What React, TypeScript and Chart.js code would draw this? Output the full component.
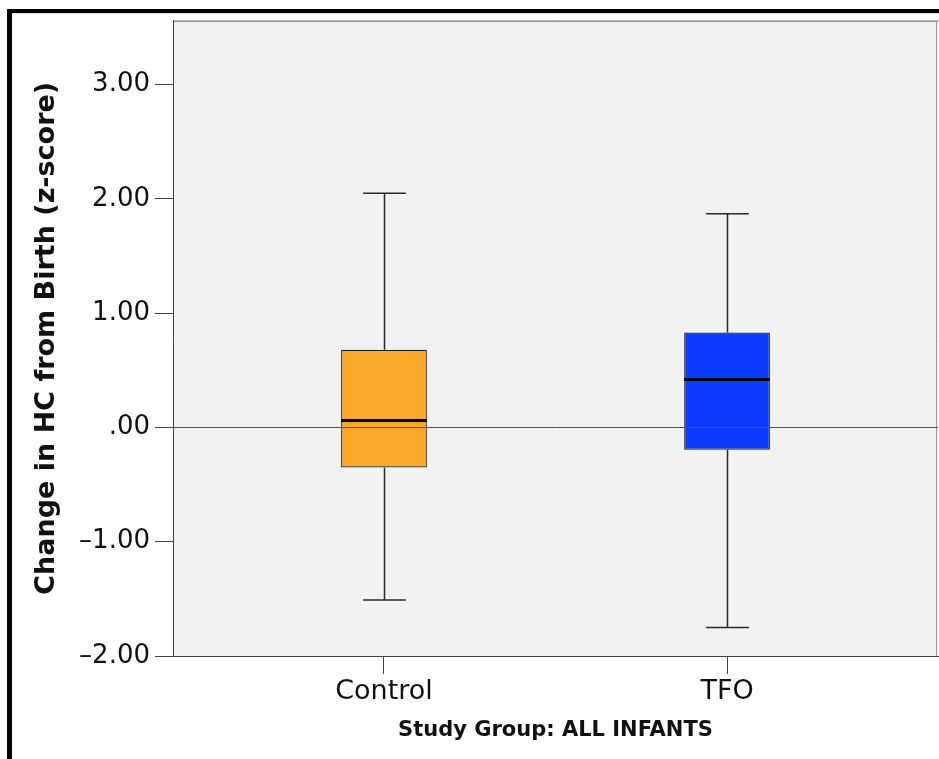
import React, { useEffect, useRef } from 'react';
import { Chart, registerables } from 'chart.js';

Chart.register(...registerables);

const categories = ['Control', 'TFO'];
const whiskerLow = [-1.51, -1.75];
const q1 = [-0.35, -0.195];
const median = [0.06, 0.42];
const q3 = [0.68, 0.83];
const whiskerHigh = [2.05, 1.87];
const boxColors = ['#F9A82A', '#0A3BFF'];
const yTickValues = [-2, -1, 0, 1, 2, 3];
const yTickLabels = ['–2.00', '–1.00', '.00', '1.00', '2.00', '3.00'];
const yMin = -2;
const yMax = 3.56;
const referenceValue = 0;
const yTitle = 'Change in HC from Birth (z-score)';
const xTitle = 'Study Group: ALL INFANTS';

const FONT = 'DejaVu Sans';

const boxPlugin = {
  id: 'boxExtras',
  beforeDraw(chart: any) {
    const { ctx, chartArea: a } = chart;
    ctx.save();
    ctx.fillStyle = '#ffffff';
    ctx.fillRect(0, 0, chart.width, chart.height);
    ctx.fillStyle = '#F2F2F2';
    ctx.fillRect(a.left, a.top, a.right - a.left, a.bottom - a.top);
    // outer frame
    ctx.fillStyle = '#000000';
    ctx.fillRect(7, 9, chart.width, 4);
    ctx.fillRect(7, 9, 5, chart.height);
    ctx.fillStyle = '#dddddd';
    ctx.fillRect(12, 13, chart.width, 1);
    // plot border top/right
    ctx.strokeStyle = '#555555';
    ctx.lineWidth = 1;
    ctx.beginPath();
    ctx.moveTo(a.left, a.top + 0.5);
    ctx.lineTo(a.right, a.top + 0.5);
    ctx.stroke();
    ctx.strokeStyle = '#999999';
    ctx.beginPath();
    ctx.moveTo(a.right - 1.5, a.top);
    ctx.lineTo(a.right - 1.5, a.bottom);
    ctx.stroke();
    ctx.restore();
  },
  afterDatasetsDraw(chart: any) {
    const { ctx, chartArea: a } = chart;
    const ys = chart.scales.y;
    const meta = chart.getDatasetMeta(0);
    ctx.save();
    // reference line
    const y0 = Math.round(ys.getPixelForValue(referenceValue)) + 0.5;
    ctx.strokeStyle = '#555555';
    ctx.lineWidth = 1;
    ctx.beginPath();
    ctx.moveTo(a.left, y0);
    ctx.lineTo(a.right, y0);
    ctx.stroke();

    categories.forEach((_, i) => {
      const bar = meta.data[i];
      if (!bar) return;
      const cx = Math.round(bar.x) + 0.5;
      const w = bar.width;
      const capHalf = w / 4;
      const pHigh = ys.getPixelForValue(whiskerHigh[i]);
      const pLow = ys.getPixelForValue(whiskerLow[i]);
      const pQ1 = ys.getPixelForValue(q1[i]);
      const pQ3 = ys.getPixelForValue(q3[i]);
      const pMed = ys.getPixelForValue(median[i]);
      ctx.strokeStyle = '#2a2a2a';
      ctx.lineWidth = 1.5;
      ctx.beginPath();
      ctx.moveTo(cx, pQ3);
      ctx.lineTo(cx, pHigh);
      ctx.moveTo(cx - capHalf, pHigh);
      ctx.lineTo(cx + capHalf, pHigh);
      ctx.moveTo(cx, pQ1);
      ctx.lineTo(cx, pLow);
      ctx.moveTo(cx - capHalf, pLow);
      ctx.lineTo(cx + capHalf, pLow);
      ctx.stroke();
      ctx.strokeStyle = '#000000';
      ctx.lineWidth = 3;
      ctx.beginPath();
      ctx.moveTo(bar.x - w / 2, pMed);
      ctx.lineTo(bar.x + w / 2, pMed);
      ctx.stroke();
    });
    ctx.restore();
  },
};

export default function App() {
  const canvasRef = useRef<HTMLCanvasElement | null>(null);

  useEffect(() => {
    document.body.style.margin = '0';
    const canvas = canvasRef.current;
    if (!canvas) return;
    const chart = new Chart(canvas, {
      type: 'bar',
      data: {
        datasets: [
          {
            data: categories.map((_, i) => ({ x: i, y: [q1[i], q3[i]] })) as any,
            backgroundColor: boxColors,
            borderColor: '#222222',
            borderWidth: 1.2,
            borderSkipped: false,
            categoryPercentage: 0.25,
            barPercentage: 1,
          },
        ],
      },
      options: {
        responsive: false,
        animation: false,
        events: [],
        layout: { padding: { left: 0, top: 20, right: 1, bottom: 0 } },
        plugins: {
          legend: { display: false },
          tooltip: { enabled: false },
        },
        scales: {
          x: {
            type: 'linear',
            min: -0.615,
            max: 1.615,
            offset: false,
            afterBuildTicks: (s: any) => {
              s.ticks = categories.map((_, i) => ({ value: i }));
            },
            afterFit: (s: any) => {
              s.height = 103;
            },
            ticks: {
              callback: (_v: any, i: number) => categories[i],
              font: { family: FONT, size: 27 },
              color: '#111111',
              padding: 2,
              autoSkip: false,
              maxRotation: 0,
            },
            grid: {
              drawOnChartArea: false,
              offset: false,
              tickLength: 18,
              color: '#444444',
            },
            border: { display: true, color: '#444444', width: 1 },
            title: {
              display: true,
              text: xTitle,
              font: { family: FONT, size: 21, weight: 'bold' },
              color: '#111111',
              padding: { top: 0, bottom: 16 },
            },
          },
          y: {
            type: 'linear',
            min: yMin,
            max: yMax,
            afterBuildTicks: (s: any) => {
              s.ticks = yTickValues.map((v) => ({ value: v }));
            },
            afterFit: (s: any) => {
              s.width = 173;
            },
            ticks: {
              callback: (_v: any, i: number) => yTickLabels[i],
              font: { family: FONT, size: 26 },
              color: '#111111',
              padding: 5,
              autoSkip: false,
            },
            grid: {
              drawOnChartArea: false,
              tickLength: 18,
              color: '#444444',
            },
            border: { display: true, color: '#444444', width: 1 },
            title: {
              display: true,
              text: yTitle,
              font: { family: FONT, size: 27, weight: 'bold' },
              color: '#111111',
              padding: { top: 31, bottom: 0 },
            },
          },
        },
      } as any,
      plugins: [boxPlugin],
    });
    return () => chart.destroy();
  }, []);

  return (
    <div style={{ width: 939, height: 759 }}>
      <canvas ref={canvasRef} width={939} height={759} style={{ display: 'block' }} />
    </div>
  );
}
